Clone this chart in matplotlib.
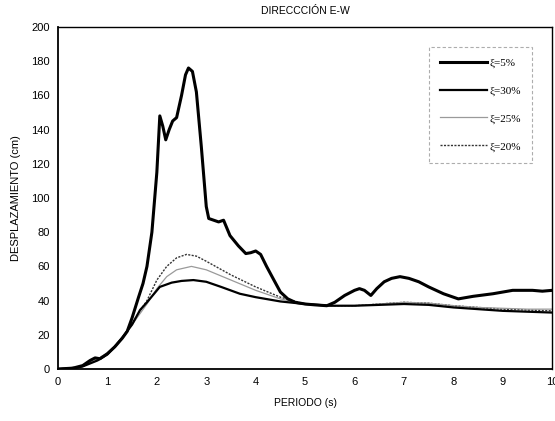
import numpy as np
import matplotlib
matplotlib.use('Agg')
import matplotlib.pyplot as plt

plt.rcParams['font.family'] = ['Liberation Sans', 'DejaVu Sans']

# xi = 5%
t5 = [0, 0.3, 0.5, 0.65, 0.75, 0.85, 1.0, 1.15, 1.3, 1.4, 1.5, 1.63, 1.72, 1.8, 1.9,
      2.0, 2.06, 2.12, 2.18, 2.25, 2.32, 2.4, 2.5, 2.58, 2.64, 2.72, 2.8, 2.9, 3.0, 3.05,
      3.15, 3.25, 3.35, 3.48, 3.65, 3.8, 3.9, 4.0, 4.1, 4.22, 4.35, 4.5, 4.65, 4.8,
      5.0, 5.2, 5.44, 5.6, 5.8, 6.0, 6.1, 6.2, 6.33, 6.45, 6.6, 6.75, 6.92, 7.1, 7.3,
      7.5, 7.8, 8.1, 8.4, 8.8, 9.2, 9.6, 9.8, 10.0]
d5 = [0, 0.5, 2, 5, 6.5, 6, 9, 13, 18, 22, 30, 42, 50, 60, 80,
      115, 148, 142, 134, 140, 145, 147, 160, 172, 176, 174, 162, 130, 95, 88,
      87, 86, 87, 78, 72, 67.5, 68, 69, 67, 60, 53, 45, 41, 39,
      38, 37.5, 37, 39, 43, 46, 47, 46, 43, 47, 51, 53, 54, 53, 51,
      48, 44, 41, 42.5, 44, 46, 46, 45.5, 46]

# xi = 30%
t30 = [0, 0.3, 0.5, 0.8, 1.0, 1.15, 1.32, 1.5, 1.66, 1.8, 2.06, 2.3, 2.5, 2.74, 3.0,
       3.3, 3.68, 4.0, 4.5, 5.0, 5.5, 6.0, 6.5, 7.0, 7.5, 8.0, 8.5, 9.0, 9.5, 10.0]
d30 = [0, 0.3, 1.5, 5, 8.5, 13, 19, 26, 34.5, 39, 48, 50.5, 51.5, 52, 51,
       48, 44, 42, 39.5, 38, 37, 37, 37.5, 38, 37.5, 36, 35, 34, 33.5, 33]

# xi = 25%
t25 = [0, 0.5, 1.0, 1.3, 1.5, 1.8, 2.0, 2.2, 2.4, 2.7, 3.0, 3.5, 4.0, 4.5, 5.0,
       5.5, 6.0, 6.5, 7.0, 7.5, 8.0, 8.5, 9.0, 9.5, 10.0]
d25 = [0, 1.5, 9, 18, 26, 38, 47, 54, 58, 60, 58, 52, 46, 41, 38,
       37, 37, 38, 39, 38.5, 37, 36, 35.5, 35, 35]

# xi = 20%
t20 = [0, 0.5, 1.0, 1.3, 1.5, 1.8, 2.0, 2.2, 2.4, 2.6, 2.8, 3.0, 3.5, 4.0, 4.5, 5.0,
       5.5, 6.0, 6.5, 7.0, 7.5, 8.0, 8.5, 9.0, 9.5, 10.0]
d20 = [0, 1.5, 9, 18, 27, 40, 52, 60, 65, 67, 66, 63, 55, 48, 42, 38,
       37, 37, 38, 39, 38.5, 37, 36, 35, 34.5, 34]

x_ticks = list(range(0, 11))
y_ticks = list(range(0, 201, 20))

fig = plt.figure(figsize=(5.55, 4.21), dpi=100)
ax = fig.add_axes([0.1045, 0.1235, 0.8905, 0.8125])

ax.plot(t20, d20, color='#333333', lw=1.0, ls=(0, (1.5, 1)), label='ξ=20%')
ax.plot(t25, d25, color='#9a9a9a', lw=0.9, label='ξ=25%')
ax.plot(t30, d30, color='black', lw=1.6, label='ξ=30%')
ax.plot(t5, d5, color='black', lw=2.2, label='ξ=5%')

ax.set_xlim(0, 10)
ax.set_ylim(0, 200)
ax.set_xticks(x_ticks)
ax.set_yticks(y_ticks)
ax.tick_params(labelsize=8, length=0, pad=6)
for s in ['left', 'bottom']:
    ax.spines[s].set_linewidth(1.3)
for s in ['top', 'right']:
    ax.spines[s].set_linewidth(1.0)

ax.set_xlabel('PERIODO (s)', fontsize=7.5, labelpad=8)
ax.set_ylabel('DESPLAZAMIENTO (cm)', fontsize=8, labelpad=7)
ax.set_title('DIRECCCIÓN E-W', fontsize=7.5, pad=9)

h, l = ax.get_legend_handles_labels()
order = [3, 2, 1, 0]
leg = ax.legend([h[i] for i in order], [l[i] for i in order],
                loc='upper right', bbox_to_anchor=(0.96, 0.942), borderaxespad=0,
                prop={'family': 'Liberation Serif', 'size': 8},
                frameon=True, fancybox=False, handlelength=4.2,
                labelspacing=1.6, borderpad=1.0, handletextpad=0.3)
leg.get_frame().set_edgecolor('#999999')
leg.get_frame().set_linestyle((0, (3, 2)))
leg.get_frame().set_linewidth(0.8)

fig.savefig('out.png', dpi=100)
